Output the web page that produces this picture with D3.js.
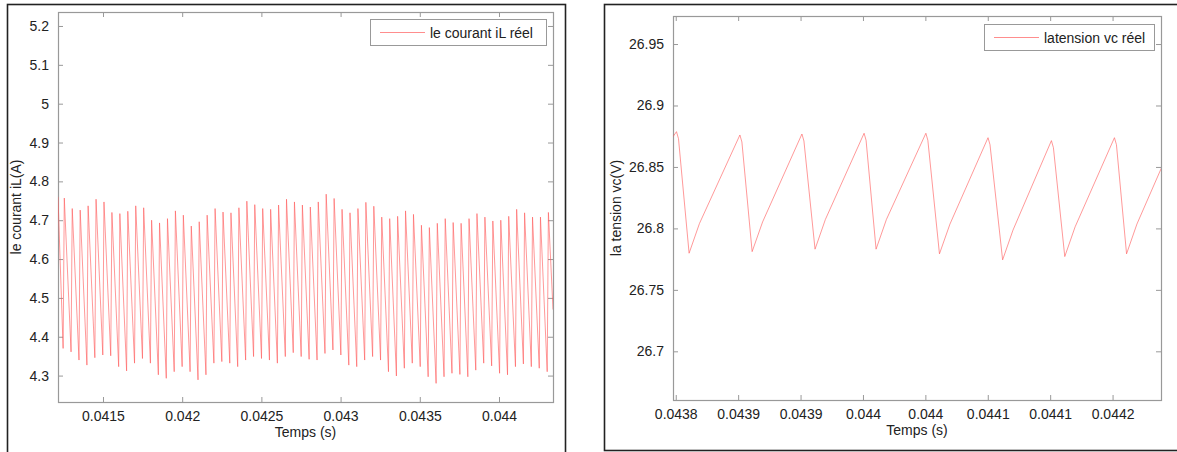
<!DOCTYPE html>
<html>
<head>
<meta charset="utf-8">
<script src="https://cdn.jsdelivr.net/npm/d3@7"></script>
<style>
  body { margin: 0; background: #fff; }
  svg { display: block; font-family: "Liberation Sans", Arial, sans-serif; }
</style>
</head>
<body>
<div id="chart"></div>
<script>
// ---- data: inductor current iL (one peak / trough per switching cycle, 20 kHz) ----
const ilStart = { t: 0.041216, v: 4.760 };
const ilEnd = { t: 0.044341, v: 4.470 };
const ilFirstPeakTime = 0.0412558;
const ilPeriod = 0.0000501;
const ilPeaks = [4.757, 4.730, 4.726, 4.737, 4.754, 4.747, 4.720, 4.717, 4.723, 4.737,
  4.732, 4.700, 4.693, 4.704, 4.724, 4.713, 4.685, 4.696, 4.713, 4.730,
  4.721, 4.719, 4.732, 4.749, 4.740, 4.730, 4.728, 4.739, 4.754, 4.747,
  4.739, 4.734, 4.747, 4.767, 4.756, 4.728, 4.719, 4.730, 4.746, 4.736,
  4.708, 4.704, 4.710, 4.724, 4.715, 4.687, 4.681, 4.692, 4.704, 4.694,
  4.692, 4.704, 4.717, 4.708, 4.698, 4.700, 4.710, 4.728, 4.719, 4.708,
  4.708, 4.720];
const ilTroughs = [4.370, 4.361, 4.340, 4.327, 4.346, 4.353, 4.351, 4.323, 4.312, 4.332,
  4.344, 4.332, 4.302, 4.293, 4.310, 4.323, 4.310, 4.289, 4.302, 4.332,
  4.336, 4.332, 4.323, 4.340, 4.349, 4.344, 4.340, 4.332, 4.349, 4.359,
  4.349, 4.342, 4.340, 4.357, 4.366, 4.353, 4.327, 4.323, 4.340, 4.349,
  4.340, 4.310, 4.299, 4.319, 4.332, 4.323, 4.297, 4.280, 4.297, 4.306,
  4.303, 4.297, 4.314, 4.332, 4.325, 4.306, 4.302, 4.323, 4.330, 4.323,
  4.319, 4.310];

// ---- data: capacitor voltage vc (vertices of the sawtooth) ----
const vcTime = [0.0437978, 0.0438006, 0.0438022, 0.0438107, 0.0438190,
  0.0438514, 0.0438530, 0.0438612, 0.0438696,
  0.0439011, 0.0439027, 0.0439116, 0.0439199,
  0.0439509, 0.0439525, 0.0439605, 0.0439688,
  0.0440004, 0.0440020, 0.0440113, 0.0440197,
  0.0440502, 0.0440518, 0.0440619, 0.0440702,
  0.0441010, 0.0441026, 0.0441117, 0.0441200,
  0.0441515, 0.0441531, 0.0441612, 0.0441695,
  0.0441890];
const vcValue = [26.8746, 26.8787, 26.8730, 26.7798, 26.8040,
  26.8760, 26.8703, 26.7811, 26.8053,
  26.8768, 26.8711, 26.7831, 26.8073,
  26.8774, 26.8717, 26.7831, 26.8073,
  26.8774, 26.8717, 26.7793, 26.8035,
  26.8738, 26.8681, 26.7744, 26.7986,
  26.8714, 26.8657, 26.7771, 26.8013,
  26.8738, 26.8681, 26.7793, 26.8035,
  26.8489];

// ---- ticks ----
const ilXTicks = [0.0415, 0.042, 0.0425, 0.043, 0.0435, 0.044];
const ilXLabels = ["0.0415", "0.042", "0.0425", "0.043", "0.0435", "0.044"];
const ilYTicks = [4.3, 4.4, 4.5, 4.6, 4.7, 4.8, 4.9, 5.0, 5.1, 5.2];
const ilYLabels = ["4.3", "4.4", "4.5", "4.6", "4.7", "4.8", "4.9", "5", "5.1", "5.2"];
const vcXTicks = [0.0438, 0.04385, 0.0439, 0.04395, 0.044, 0.04405, 0.0441, 0.04415];
const vcXLabels = ["0.0438", "0.0439", "0.0439", "0.044", "0.044", "0.0441", "0.0441", "0.0442"];
const vcYTicks = [26.7, 26.75, 26.8, 26.85, 26.9, 26.95];
const vcYLabels = ["26.7", "26.75", "26.8", "26.85", "26.9", "26.95"];

// build the iL vertex list: trough just before each peak, then a slow fall
const ilData = [ilStart];
ilPeaks.forEach(function(p, i) {
  const tp = ilFirstPeakTime + i * ilPeriod;
  ilData.push({ t: tp - 0.15 * ilPeriod, v: ilTroughs[i] });
  ilData.push({ t: tp, v: p });
});
ilData.push(ilEnd);

const vcData = vcTime.map((t, i) => ({ t: t, v: vcValue[i] }));

const lineColor = "#ff5c5c";

const W = 1177, H = 452;
const svg = d3.select("#chart").append("svg")
  .attr("width", W).attr("height", H);

svg.append("rect").attr("width", W).attr("height", H).attr("fill", "#fff");

// outer frames of the two figures
svg.append("rect").attr("x", 7.5).attr("y", 4.5).attr("width", 558).attr("height", 460)
  .attr("fill", "none").attr("stroke", "#222").attr("stroke-width", 1.6);
svg.append("rect").attr("x", 604.5).attr("y", 4.5).attr("width", 600).attr("height", 446)
  .attr("fill", "none").attr("stroke", "#222").attr("stroke-width", 1.6);

const drawPanel = function(o) {
  const w = o.right - o.left, h = o.bottom - o.top;
  const g = svg.append("g").attr("transform", "translate(" + o.left + "," + o.top + ")");

  const x = d3.scaleLinear().domain(o.xDomain).range([0, w]);
  const y = d3.scaleLinear().domain(o.yDomain).range([h, 0]);

  const axisColor = "#999";
  const styleAxis = function(sel, noText) {
    sel.select(".domain").remove();
    sel.selectAll(".tick line").attr("stroke", axisColor);
    sel.selectAll(".tick text").attr("fill", "#222").style("font-size", "14px");
    if (noText) sel.selectAll(".tick text").remove();
  };

  // bottom / top
  g.append("g").attr("transform", "translate(0," + h + ")")
    .call(d3.axisBottom(x).tickValues(o.xTicks).tickSizeInner(-5).tickSizeOuter(0).tickPadding(9)
      .tickFormat((d, i) => o.xLabels[i]))
    .call(styleAxis);
  g.append("g")
    .call(d3.axisTop(x).tickValues(o.xTicks).tickSizeInner(-5).tickSizeOuter(0))
    .call(sel => styleAxis(sel, true));
  // left / right
  g.append("g")
    .call(d3.axisLeft(y).tickValues(o.yTicks).tickSizeInner(-5).tickSizeOuter(0).tickPadding(9)
      .tickFormat((d, i) => o.yLabels[i]))
    .call(styleAxis);
  g.append("g").attr("transform", "translate(" + w + ",0)")
    .call(d3.axisRight(y).tickValues(o.yTicks).tickSizeInner(-5).tickSizeOuter(0))
    .call(sel => styleAxis(sel, true));

  // box
  g.append("rect").attr("x", 0.5).attr("y", 0.5).attr("width", w).attr("height", h)
    .attr("fill", "none").attr("stroke", axisColor).attr("stroke-width", 1.2);

  // clip + line
  g.append("clipPath").attr("id", o.id + "-clip")
    .append("rect").attr("width", w).attr("height", h);
  g.append("path")
    .datum(o.data)
    .attr("clip-path", "url(#" + o.id + "-clip)")
    .attr("fill", "none")
    .attr("stroke", lineColor)
    .attr("stroke-opacity", 0.7)
    .attr("stroke-width", 0.9)
    .attr("d", d3.line().x(d => x(d.t)).y(d => y(d.v)));

  // axis titles
  g.append("text")
    .attr("x", w / 2).attr("y", h + 35)
    .attr("text-anchor", "middle").attr("fill", "#222").style("font-size", "14px")
    .text(o.xTitle);
  g.append("text")
    .attr("transform", "translate(" + (o.yTitleX - o.left) + "," + (h / 2) + ") rotate(-90)")
    .attr("text-anchor", "middle").attr("fill", "#222").style("font-size", "14px")
    .text(o.yTitle);

  // legend
  const lg = g.append("g").attr("transform", "translate(" + (o.legend.x - o.left) + "," + (o.legend.y - o.top) + ")");
  lg.append("rect").attr("x", 0.5).attr("y", 0.5).attr("width", o.legend.w).attr("height", 26)
    .attr("fill", "#fff").attr("stroke", "#999");
  lg.append("line").attr("x1", 10).attr("x2", 55).attr("y1", 13.5).attr("y2", 13.5)
    .attr("stroke", lineColor).attr("stroke-opacity", 0.7);
  lg.append("text").attr("x", 60).attr("y", 18.5).attr("fill", "#222").style("font-size", "14px")
    .text(o.legend.text);
};

drawPanel({
  id: "il", left: 58, right: 553, top: 12, bottom: 402,
  xDomain: [0.041216, 0.044341], yDomain: [4.232, 5.236],
  xTicks: ilXTicks, xLabels: ilXLabels, yTicks: ilYTicks, yLabels: ilYLabels,
  data: ilData, xTitle: "Temps (s)", yTitle: "le courant iL(A)", yTitleX: 21,
  legend: { x: 370, y: 19, w: 176, text: "le courant iL réel" }
});

drawPanel({
  id: "vc", left: 673, right: 1161, top: 16, bottom: 400,
  xDomain: [0.0437978, 0.0441888], yDomain: [26.6604, 26.9728],
  xTicks: vcXTicks, xLabels: vcXLabels, yTicks: vcYTicks, yLabels: vcYLabels,
  data: vcData, xTitle: "Temps (s)", yTitle: "la tension vc(V)", yTitleX: 621,
  legend: { x: 984, y: 24, w: 170, text: "latension vc réel" }
});
</script>
</body>
</html>
